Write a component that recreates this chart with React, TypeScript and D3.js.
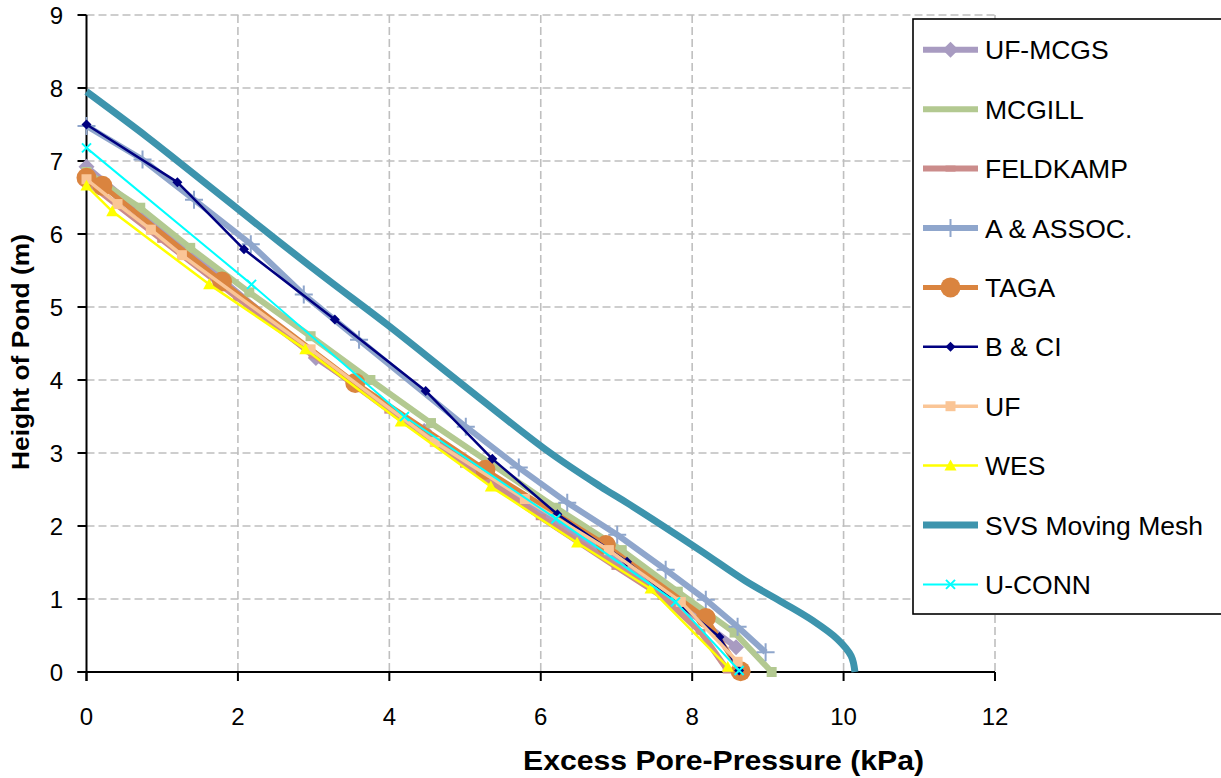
import React from 'react';
import * as d3 from 'd3';

type Pt = [number, number];

// axis ticks
const xTicks = [0, 2, 4, 6, 8, 10, 12];
const yTicks = [0, 1, 2, 3, 4, 5, 6, 7, 8, 9];

// [excess pore-pressure (kPa), height of pond (m)]
const ufMcgs: Pt[] = [[0, 6.92], [1.66, 5.49], [3.03, 4.3], [4.46, 3.3], [5.9, 2.28], [7.4, 1.25], [8.58, 0.34]];
const mcgill: Pt[] = [[0, 6.85], [0.71, 6.36], [1.37, 5.81], [2.15, 5.2], [2.96, 4.6], [3.75, 4.0], [4.55, 3.41], [5.35, 2.85], [6.2, 2.25], [7.07, 1.67], [7.81, 1.1], [8.56, 0.54], [9.05, 0.0]];
const feldkamp: Pt[] = [[0, 6.72], [1, 5.92], [2, 5.12], [3, 4.34], [4, 3.58], [5, 2.84], [6, 2.12], [7, 1.44], [7.61, 1.03], [8.11, 0.55], [8.47, 0.02]];
const aAssoc: Pt[] = [[0, 7.48], [0.74, 7.02], [1.42, 6.47], [2.17, 5.86], [2.87, 5.17], [3.6, 4.55], [5.01, 3.36], [5.71, 2.8], [6.35, 2.32], [7.01, 1.88], [7.65, 1.4], [8.18, 0.99], [8.6, 0.62], [8.97, 0.27]];
const taga: Pt[] = [[0, 6.77], [0.21, 6.66], [1.79, 5.35], [3.55, 3.96], [5.27, 2.77], [6.86, 1.74], [8.18, 0.74], [8.64, 0.01]];
const bCi: Pt[] = [[0, 7.5], [1.2, 6.71], [2.08, 5.79], [3.28, 4.83], [4.48, 3.85], [5.36, 2.92], [6.22, 2.16], [7.14, 1.51], [8.36, 0.48], [8.62, 0.02]];
const uf: Pt[] = [[0, 6.75], [0.41, 6.41], [0.85, 6.06], [1.26, 5.71], [2.96, 4.42], [4.6, 3.15], [5.79, 2.37], [6.9, 1.67], [7.85, 0.96], [8.6, 0.14]];
const wes: Pt[] = [[0, 6.66], [0.34, 6.31], [1.62, 5.31], [2.89, 4.42], [4.15, 3.43], [5.34, 2.54], [6.48, 1.77], [7.45, 1.14], [8.47, 0.07]];
const svs: Pt[] = [[0, 7.95], [0.8, 7.33], [1.24, 6.97], [2.56, 5.88], [3.18, 5.38], [3.97, 4.76], [4.94, 3.96], [6.1, 3.02], [6.79, 2.54], [7.15, 2.31], [8.1, 1.67], [8.7, 1.25], [9.2, 0.95], [9.6, 0.7], [9.92, 0.45], [10.1, 0.22], [10.15, 0.0]];
const uConn: Pt[] = [[0, 7.18], [2.18, 5.31], [4.2, 3.5], [6.2, 2.1], [7.78, 0.96], [8.62, 0.02]];

type Marker = 'diamond' | 'square' | 'dash' | 'plus' | 'circle' | 'triangle' | 'x' | 'none';

const series: { name: string; data: Pt[]; color: string; width: number; marker: Marker; size: number; legendMarker: boolean; smooth?: boolean }[] = [
  { name: 'UF-MCGS', data: ufMcgs, color: '#A89BC1', width: 6, marker: 'diamond', size: 8, legendMarker: true },
  { name: 'MCGILL', data: mcgill, color: '#B3C991', width: 6, marker: 'square', size: 5, legendMarker: false },
  { name: 'FELDKAMP', data: feldkamp, color: '#CB8C8B', width: 6, marker: 'dash', size: 5, legendMarker: true },
  { name: 'A & ASSOC.', data: aAssoc, color: '#8FA6CC', width: 6, marker: 'plus', size: 9, legendMarker: true },
  { name: 'TAGA', data: taga, color: '#DA843F', width: 5, marker: 'circle', size: 10, legendMarker: true },
  { name: 'B & CI', data: bCi, color: '#000080', width: 2.5, marker: 'diamond', size: 5, legendMarker: true },
  { name: 'UF', data: uf, color: '#FAC596', width: 3.5, marker: 'square', size: 5, legendMarker: true },
  { name: 'WES', data: wes, color: '#FFFF00', width: 2.5, marker: 'triangle', size: 6, legendMarker: true },
  { name: 'SVS Moving Mesh', data: svs, color: '#3D94AD', width: 7, marker: 'none', size: 0, legendMarker: false, smooth: true },
  { name: 'U-CONN', data: uConn, color: '#00FFFF', width: 2, marker: 'x', size: 4.5, legendMarker: true },
];

const font = "'Liberation Sans', Arial, sans-serif";

function drawMarker(m: Marker, cx: number, cy: number, s: number, color: string, key: string | number) {
  switch (m) {
    case 'diamond':
      return <path key={key} d={`M${cx},${cy - s}L${cx + s},${cy}L${cx},${cy + s}L${cx - s},${cy}Z`} fill={color} />;
    case 'square':
      return <rect key={key} x={cx - s} y={cy - s} width={2 * s} height={2 * s} fill={color} />;
    case 'dash':
      return <rect key={key} x={cx - s} y={cy - s * 0.6} width={2 * s} height={s * 1.2} fill={color} />;
    case 'circle':
      return <circle key={key} cx={cx} cy={cy} r={s} fill={color} />;
    case 'triangle':
      return <path key={key} d={`M${cx},${cy - s}L${cx + s},${cy + s * 0.8}L${cx - s},${cy + s * 0.8}Z`} fill={color} />;
    case 'plus':
      return <path key={key} d={`M${cx - s},${cy}H${cx + s}M${cx},${cy - s}V${cy + s}`} stroke={color} strokeWidth={2} fill="none" />;
    case 'x':
      return <path key={key} d={`M${cx - s},${cy - s}L${cx + s},${cy + s}M${cx - s},${cy + s}L${cx + s},${cy - s}`} stroke={color} strokeWidth={2} fill="none" />;
    default:
      return null;
  }
}

export default function App() {
  const width = 1221;
  const height = 778;
  const left = 86.5;
  const right = 995;
  const top = 15;
  const bottom = 672;

  const x = d3.scaleLinear().domain([0, 12]).range([left, right]);
  const y = d3.scaleLinear().domain([0, 9]).range([bottom, top]);

  const line = d3.line<Pt>().x(d => x(d[0])).y(d => y(d[1]));
  const smoothLine = d3.line<Pt>().x(d => x(d[0])).y(d => y(d[1])).curve(d3.curveCatmullRom.alpha(0.5));

  // legend layout
  const legX = 913;
  const legTop = 19;
  const legBottom = 614;
  const legRow = d3.scaleLinear().domain([0, series.length - 1]).range([49.8, 584.4]);

  return (
    <svg width={width} height={height} style={{ position: 'absolute', left: 0, top: 0, background: '#fff' }} fontFamily={font}>
      {/* grid */}
      <g stroke="#BFBFBF" strokeWidth={1.6} strokeDasharray="8,4">
        {xTicks.filter(t => t > 0).map(t => (
          <line key={'gx' + t} x1={x(t)} x2={x(t)} y1={y(9)} y2={y(0)} />
        ))}
        {yTicks.filter(t => t > 0).map(t => (
          <line key={'gy' + t} x1={x(0)} x2={x(12)} y1={y(t)} y2={y(t)} />
        ))}
      </g>

      {/* axes */}
      <g stroke="#000" strokeWidth={2}>
        <line x1={x(0)} x2={x(0)} y1={y(9)} y2={y(0) + 9} />
        <line x1={x(0) - 9} x2={x(12)} y1={y(0)} y2={y(0)} />
        {yTicks.map(t => (
          <line key={'ty' + t} x1={x(0) - 9} x2={x(0)} y1={y(t)} y2={y(t)} />
        ))}
        {xTicks.map(t => (
          <line key={'tx' + t} x1={x(t)} x2={x(t)} y1={y(0)} y2={y(0) + 9} />
        ))}
      </g>

      {/* series */}
      {series.map(s => (
        <g key={s.name}>
          <path d={(s.smooth ? smoothLine : line)(s.data) || ''} fill="none" stroke={s.color} strokeWidth={s.width} strokeLinejoin="round" />
          {s.data.map((d, i) => drawMarker(s.marker, x(d[0]), y(d[1]), s.size, s.color, i))}
        </g>
      ))}

      {/* tick labels */}
      <g fontSize={24} fill="#000">
        {yTicks.map(t => (
          <text key={'ly' + t} x={63} y={y(t)} dy="0.36em" textAnchor="end">{t}</text>
        ))}
        {xTicks.map(t => (
          <text key={'lx' + t} x={x(t)} y={725} textAnchor="middle">{t}</text>
        ))}
      </g>

      {/* axis titles */}
      <text x={723.5} y={770} textAnchor="middle" fontSize={28} fontWeight="bold" textLength={401} lengthAdjust="spacingAndGlyphs">
        Excess Pore-Pressure (kPa)
      </text>
      <text transform={`translate(29,352) rotate(-90)`} textAnchor="middle" fontSize={23} fontWeight="bold" textLength={236} lengthAdjust="spacingAndGlyphs">
        Height of Pond (m)
      </text>

      {/* legend */}
      <rect x={legX} y={legTop} width={width - legX + 5} height={legBottom - legTop} fill="#fff" stroke="#000" strokeWidth={1.6} />
      {series.map((s, i) => {
        const cy = legRow(i);
        return (
          <g key={'leg' + s.name}>
            <line x1={923} x2={978} y1={cy} y2={cy} stroke={s.color} strokeWidth={s.width} />
            {s.legendMarker && drawMarker(s.marker, 950.5, cy, s.size, s.color, 'm')}
            <text x={985} y={cy} dy="0.36em" fontSize={26.5} fill="#000">{s.name}</text>
          </g>
        );
      })}
    </svg>
  );
}
